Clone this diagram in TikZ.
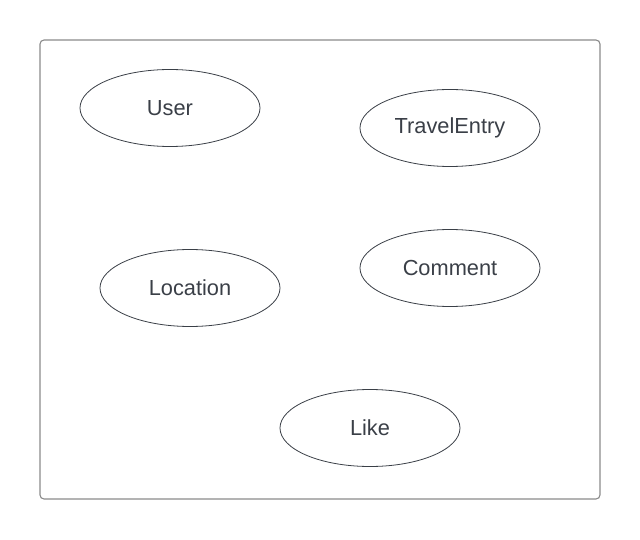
\documentclass[tikz,border=0pt]{standalone}
\usepackage{fontspec}
\setmainfont{Liberation Sans}
\definecolor{framegray}{HTML}{8A8A8A}
\definecolor{inkgray}{HTML}{3A3F47}
\tikzset{
  entity/.style={ellipse, draw=inkgray, line width=0.8pt, minimum width=180pt, minimum height=77pt, inner sep=0pt, text=inkgray, font=\fontsize{21.8}{25}\selectfont},
  frame/.style={draw=framegray, line width=1.1pt, rounded corners=4pt}
}
\usetikzlibrary{shapes.geometric}
\begin{document}
\begin{tikzpicture}[x=1pt, y=-1pt]
    \useasboundingbox (0,0) rectangle (640,540);
    %frame
    \draw[frame] (40,40) rectangle (600,499);
    \node[entity] at (170,108) (User){User};
    \node[entity] at (450,128) (TravelEntry){TravelEntry};
    \node[entity] at (190,288) (Location){Location};
    \node[entity] at (450,268) (Comment){Comment};
    \node[entity] at (370,428) (Like){Like};
  \end{tikzpicture}
\end{document}
